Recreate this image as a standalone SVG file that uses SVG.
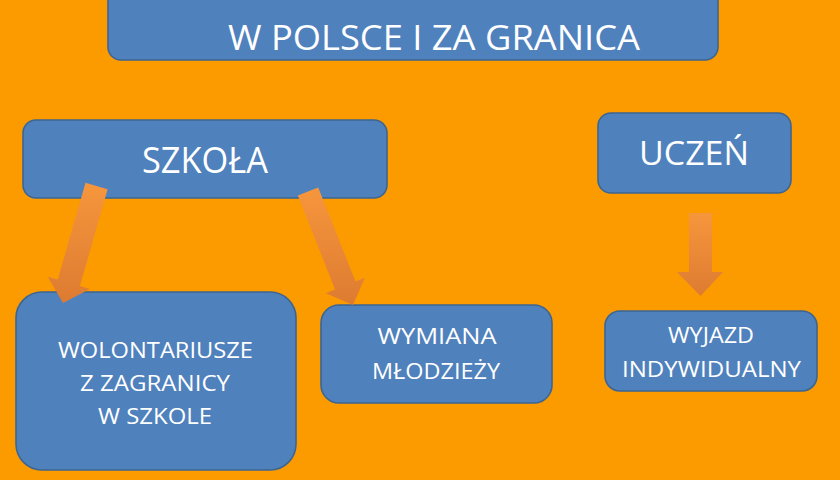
<svg xmlns="http://www.w3.org/2000/svg" width="840" height="480" viewBox="0 0 840 480">
<defs>
<linearGradient id="ag" x1="0" y1="0" x2="0" y2="1">
<stop offset="0" stop-color="#F6963C"/>
<stop offset="1" stop-color="#DD7B31"/>
</linearGradient>
<style>
.box{fill:#4F81BD;stroke:#3D6592;stroke-width:1.6}
.t{font-family:"Open Sans","Noto Sans","DejaVu Sans",sans-serif;fill:#FFFFFF;text-anchor:middle}
.arrow{fill:url(#ag)}
</style>
</defs>
<rect x="0" y="0" width="840" height="480" fill="#FB9B00"/>
<g id="node-top">
<rect class="box" x="108" y="-20" width="610" height="80" rx="13"/>
<text class="t" x="434" y="50" font-size="35" textLength="412" lengthAdjust="spacingAndGlyphs">W POLSCE I ZA GRANICA</text>
</g>
<g id="node-szkola">
<rect class="box" x="23" y="120" width="364" height="78" rx="13"/>
<text class="t" x="205" y="173" font-size="36" textLength="126" lengthAdjust="spacingAndGlyphs">SZKOŁA</text>
</g>
<g id="node-uczen">
<rect class="box" x="598" y="113" width="193" height="80" rx="13"/>
<text class="t" x="694" y="165" font-size="33" textLength="110" lengthAdjust="spacingAndGlyphs">UCZEŃ</text>
</g>
<g id="node-wolontariusze">
<rect class="box" x="16" y="292" width="280" height="178" rx="26"/>
<text class="t" x="155.5" y="358" font-size="21" textLength="195" lengthAdjust="spacingAndGlyphs">WOLONTARIUSZE</text>
<text class="t" x="155" y="391" font-size="21" textLength="150" lengthAdjust="spacingAndGlyphs">Z ZAGRANICY</text>
<text class="t" x="155" y="424" font-size="21" textLength="114" lengthAdjust="spacingAndGlyphs">W SZKOLE</text>
</g>
<g id="node-wymiana">
<rect class="box" x="321" y="305" width="231" height="98" rx="18"/>
<text class="t" x="437" y="344" font-size="21" textLength="119" lengthAdjust="spacingAndGlyphs">WYMIANA</text>
<text class="t" x="436" y="379" font-size="21" textLength="128" lengthAdjust="spacingAndGlyphs">MŁODZIEŻY</text>
</g>
<g id="node-wyjazd">
<rect class="box" x="605" y="311" width="212" height="80" rx="15"/>
<text class="t" x="711" y="343" font-size="21" textLength="86" lengthAdjust="spacingAndGlyphs">WYJAZD</text>
<text class="t" x="711.5" y="377" font-size="21" textLength="179" lengthAdjust="spacingAndGlyphs">INDYWIDUALNY</text>
</g>
<g id="connectors">
<polygon class="arrow" points="85.5,182.8 107.6,189.2 79.9,286 89.9,288.9 63,303 47.7,276.8 57.8,279.6"/>
<polygon class="arrow" points="297.8,195.6 318.2,187.4 355.5,281.4 364.8,277.8 353,305 325.8,293.2 335.1,289.6"/>
<polygon class="arrow" points="689,213 712,213 712,272 723,272 700.5,296 677,272 689,272"/>
</g>
</svg>
